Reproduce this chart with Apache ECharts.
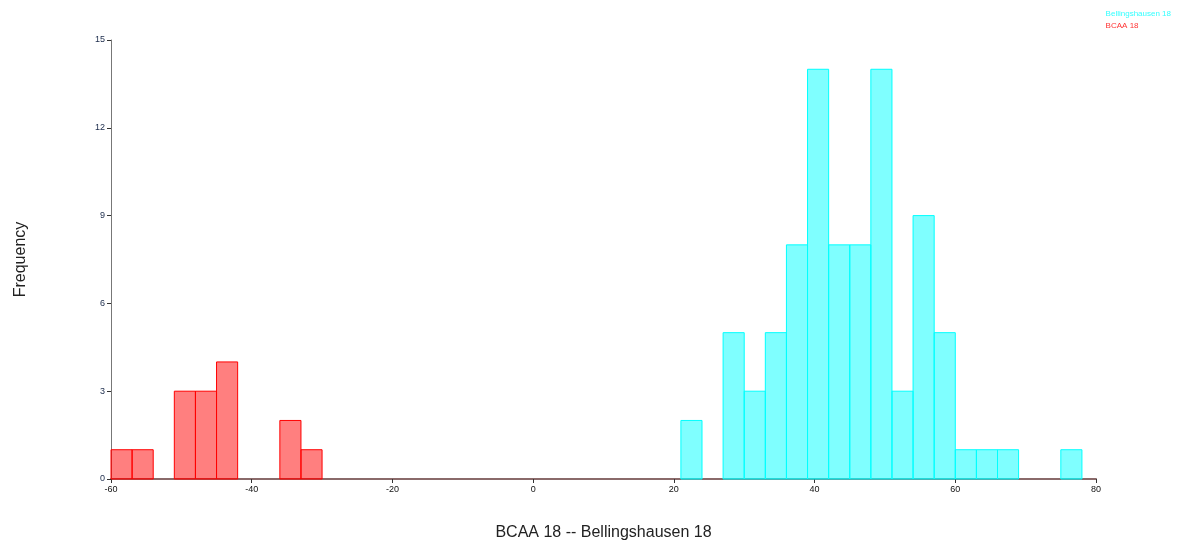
<!DOCTYPE html>
<html>
<head>
<meta charset="utf-8">
<script src="https://cdn.jsdelivr.net/npm/echarts@6/dist/echarts.min.js"></script>
<style>html,body{margin:0;padding:0;background:#fff}#c{width:1179px;height:542px}</style>
</head>
<body>
<div id="c"></div>
<script>
// bin edges (width 3)
var bcaaStarts = [-60, -57, -54, -51, -48, -45, -42, -39, -36, -33];
var bcaaCounts = [1, 1, 0, 3, 3, 4, 0, 0, 2, 1];
var bellStarts = [21, 24, 27, 30, 33, 36, 39, 42, 45, 48, 51, 54, 57, 60, 63, 66, 69, 72, 75];
var bellCounts = [2, 0, 5, 3, 5, 8, 14, 8, 8, 14, 3, 9, 5, 1, 1, 1, 0, 0, 1];
var binWidth = 3;
var xTicks = [-60, -40, -20, 0, 20, 40, 60, 80];
var yTicks = [0, 3, 6, 9, 12, 15];

function toData(starts, counts) {
  var out = [];
  for (var i = 0; i < starts.length; i++) {
    if (counts[i] > 0) out.push([starts[i], starts[i] + binWidth, counts[i]]);
  }
  return out;
}
function renderBin(params, api) {
  var p0 = api.coord([api.value(0), api.value(2)]);
  var p1 = api.coord([api.value(1), 0]);
  return {
    type: 'rect',
    shape: { x: p0[0], y: p0[1], width: p1[0] - p0[0], height: p1[1] - p0[1] },
    style: api.style()
  };
}
var chart = echarts.init(document.getElementById('c'), null, { renderer: 'canvas' });
chart.setOption({
  animation: false,
  backgroundColor: '#fff',
  grid: { left: 111, right: 83, top: 40, bottom: 63, outerBoundsMode: 'none', containLabel: false },
  legend: {
    orient: 'vertical', right: 3, top: 5, itemWidth: 0, itemHeight: 0, itemGap: 4,
    textStyle: { fontSize: 8, fontFamily: 'Liberation Sans, Arial' },
    data: [
      { name: 'Bellingshausen 18', textStyle: { color: '#33ffff' } },
      { name: 'BCAA 18', textStyle: { color: '#ff3333' } }
    ]
  },
  xAxis: {
    type: 'value', min: -60, max: 80, interval: 20,
    name: 'BCAA 18 -- Bellingshausen 18', nameLocation: 'middle', nameGap: 46,
    nameTextStyle: { fontSize: 16, color: '#222', fontFamily: 'Liberation Sans, Arial' },
    axisLine: { show: true, onZero: false, lineStyle: { color: '#8a6a6a', width: 2 } },
    axisTick: { show: true, length: 4, lineStyle: { color: '#333' } },
    axisLabel: { fontSize: 9, color: '#111', margin: 6, fontFamily: 'Liberation Sans, Arial' },
    splitLine: { show: false }
  },
  yAxis: {
    type: 'value', min: 0, max: 15, interval: 3,
    name: 'Frequency', nameLocation: 'middle', nameGap: 82, nameRotate: 90,
    nameTextStyle: { fontSize: 16, color: '#222', fontFamily: 'Liberation Sans, Arial' },
    axisLine: { show: true, onZero: false, lineStyle: { color: '#777', width: 1 } },
    axisTick: { show: true, length: 4, lineStyle: { color: '#333' } },
    axisLabel: { fontSize: 9, color: '#1a2a4a', margin: 6, fontFamily: 'Liberation Sans, Arial' },
    splitLine: { show: false }
  },
  series: [
    {
      name: 'Bellingshausen 18', type: 'custom', renderItem: renderBin,
      encode: { x: [0, 1], y: 2 },
      itemStyle: { color: 'rgba(0,255,255,0.5)', borderColor: '#00ffff', borderWidth: 1 },
      data: toData(bellStarts, bellCounts)
    },
    {
      name: 'BCAA 18', type: 'custom', renderItem: renderBin,
      encode: { x: [0, 1], y: 2 },
      itemStyle: { color: 'rgba(255,0,0,0.5)', borderColor: '#ff0000', borderWidth: 1 },
      data: toData(bcaaStarts, bcaaCounts)
    }
  ]
});
</script>
</body>
</html>
